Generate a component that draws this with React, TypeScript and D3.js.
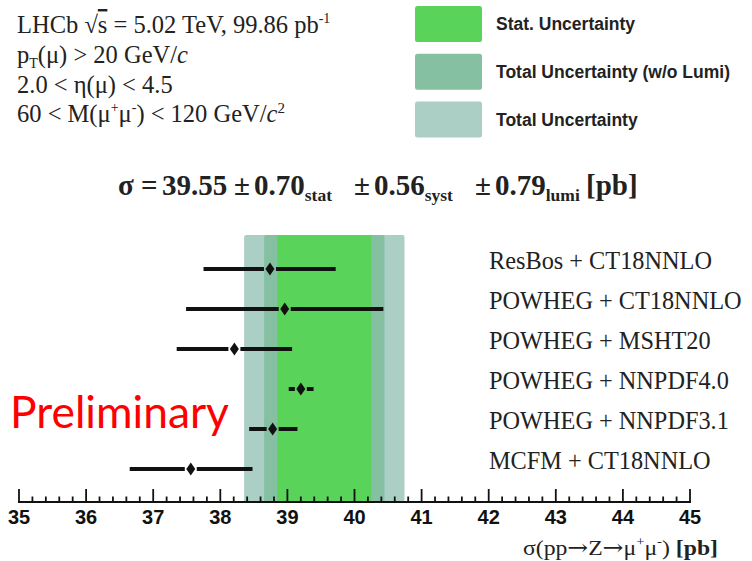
import React from "react";
import * as d3 from "d3";

// Measured cross-section and its uncertainty components [pb]
const sigmaCentral = 39.55;
const sigmaStat = 0.7;
const sigmaSyst = 0.56;
const sigmaLumi = 0.79;

// Theory predictions (top to bottom)
const models = [
  "ResBos + CT18NNLO",
  "POWHEG + CT18NNLO",
  "POWHEG + MSHT20",
  "POWHEG + NNPDF4.0",
  "POWHEG + NNPDF3.1",
  "MCFM + CT18NNLO",
];
const predCentral = [38.74, 38.96, 38.21, 39.2, 38.78, 37.56];
const predLow = [37.75, 37.49, 37.35, 39.02, 38.43, 36.65];
const predHigh = [39.72, 40.43, 39.07, 39.39, 39.15, 38.48];

const axisDomain: [number, number] = [35, 45];
const majorTicks = d3.range(35, 46, 1);

const legendLabels = [
  "Stat. Uncertainty",
  "Total Uncertainty (w/o Lumi)",
  "Total Uncertainty",
];

const COLORS = {
  stat: "#5ad35a",
  noLumi: "#86c0a2",
  total: "#abcec5",
};

const W = 752;
const H = 561;
const SERIF = "'Liberation Serif', 'Times New Roman', serif";
const SANS = "'Liberation Sans', Arial, sans-serif";

export default function App() {
  const x = d3.scaleLinear().domain(axisDomain).range([19, 690]);
  const y = d3.scalePoint<string>().domain(models).range([269, 469]);

  const axisY = 502;
  const bandTop = 235;

  const errNoLumi = Math.sqrt(sigmaStat ** 2 + sigmaSyst ** 2);
  const errTotal = Math.sqrt(sigmaStat ** 2 + sigmaSyst ** 2 + sigmaLumi ** 2);
  const bands = [
    { err: errTotal, color: COLORS.total },
    { err: errNoLumi, color: COLORS.noLumi },
    { err: sigmaStat, color: COLORS.stat },
  ];

  const minorTicks = x.ticks(50);
  const legendColors = [COLORS.stat, COLORS.noLumi, COLORS.total];

  return (
    <svg
      width={W}
      height={H}
      viewBox={`0 0 ${W} ${H}`}
      style={{ position: "absolute", left: 0, top: 0, background: "#fff" }}
    >
      <rect width={W} height={H} fill="#fff" />

      {/* Measurement info */}
      <g fontFamily={SERIF} fontSize={24.5} fill="#222">
        <text x={17} y={33}>
          LHCb{"\u00a0"}
          <tspan>√</tspan>
          <tspan textDecoration="overline">s</tspan> = 5.02 TeV, 99.86 pb
          <tspan fontSize={14} dy={-10}>-1</tspan>
        </text>
        <text x={17} y={63}>
          p
          <tspan fontSize={14} dy={5}>T</tspan>
          <tspan dy={-5}>(μ) &gt; 20 GeV/</tspan>
          <tspan fontStyle="italic">c</tspan>
        </text>
        <text x={17} y={93}>2.0 &lt; η(μ) &lt; 4.5</text>
        <text x={17} y={122}>
          60 &lt; M(μ
          <tspan fontSize={14} dy={-10}>+</tspan>
          <tspan dy={10}>μ</tspan>
          <tspan fontSize={14} dy={-10}>-</tspan>
          <tspan dy={10}>) &lt; 120 GeV/</tspan>
          <tspan fontStyle="italic">c</tspan>
          <tspan fontSize={15} dy={-9}>2</tspan>
        </text>
      </g>

      {/* Legend */}
      <g>
        {legendLabels.map((lab, i) => (
          <g key={lab}>
            <rect
              x={415}
              y={6 + i * 47.8}
              width={67}
              height={36}
              rx={2.5}
              fill={legendColors[i]}
            />
            <text
              x={496}
              y={30 + i * 47.8}
              fontFamily={SANS}
              fontWeight="bold"
              fontSize={17.5}
              fill="#222"
            >
              {lab}
            </text>
          </g>
        ))}
      </g>

      {/* Result formula */}
      <g fontFamily={SERIF} fontWeight="bold" fill="#222">
        <text y={195} fontSize={29}>
          <tspan x={118}>σ</tspan>
          <tspan x={141}>=</tspan>
          <tspan x={162}>{sigmaCentral.toFixed(2)}</tspan>
          <tspan x={234}>±</tspan>
          <tspan x={254}>{sigmaStat.toFixed(2)}</tspan>
          <tspan fontSize={17.5} dy={6}>stat</tspan>
          <tspan x={354} dy={-6}>±</tspan>
          <tspan x={374}>{sigmaSyst.toFixed(2)}</tspan>
          <tspan fontSize={17.5} dy={6}>syst</tspan>
          <tspan x={475} dy={-6}>±</tspan>
          <tspan x={495}>{sigmaLumi.toFixed(2)}</tspan>
          <tspan fontSize={17.5} dy={6}>lumi</tspan>
          <tspan x={586} dy={-6}>[pb]</tspan>
        </text>
      </g>

      {/* Uncertainty bands */}
      <g>
        {bands.map((b) => {
          const x0 = x(sigmaCentral - b.err);
          const x1 = x(sigmaCentral + b.err);
          return (
            <path
              key={b.color}
              d={`M${x0},${axisY} V${bandTop + 2} Q${x0},${bandTop} ${x0 + 2},${bandTop} H${x1 - 2} Q${x1},${bandTop} ${x1},${bandTop + 2} V${axisY} Z`}
              fill={b.color}
            />
          );
        })}
      </g>

      {/* Preliminary tag */}
      <text
        x={10}
        y={428}
        fontFamily="Lato, 'Open Sans', sans-serif"
        fontSize={44}
        fill="#ff0000"
        textLength={219}
        lengthAdjust="spacingAndGlyphs"
      >
        Preliminary
      </text>

      {/* Predictions */}
      <g>
        {models.map((m, i) => {
          const cy = y(m) as number;
          const cx = x(predCentral[i]);
          const gap = 6;
          return (
            <g key={m}>
              <line
                x1={x(predLow[i])}
                x2={cx - gap}
                y1={cy}
                y2={cy}
                stroke="#111"
                strokeWidth={4}
              />
              <line
                x1={cx + gap}
                x2={x(predHigh[i])}
                y1={cy}
                y2={cy}
                stroke="#111"
                strokeWidth={4}
              />
              <path
                d={`M${cx},${cy - 6.5} L${cx + 4.5},${cy} L${cx},${cy + 6.5} L${cx - 4.5},${cy} Z`}
                fill="#111"
              />
              <text
                x={489}
                y={cy}
                fontFamily={SERIF}
                fontSize={24.3}
                fill="#222"
              >
                {m}
              </text>
            </g>
          );
        })}
      </g>

      {/* Axis */}
      <g stroke="#111">
        <line x1={x(35) - 1} x2={x(45) + 1} y1={axisY} y2={axisY} strokeWidth={2.2} />
        {minorTicks.map((t) => {
          const major = Math.abs(t - Math.round(t)) < 1e-6;
          return (
            <line
              key={t}
              x1={x(t)}
              x2={x(t)}
              y1={axisY}
              y2={axisY - (major ? 13 : 5.5)}
              strokeWidth={1.8}
            />
          );
        })}
      </g>
      <g
        fontFamily="'Liberation Sans Narrow', 'Liberation Sans', Arial, sans-serif"
        fontWeight="bold"
        fontSize={20}
        fill="#111"
        textAnchor="middle"
      >
        {majorTicks.map((t) => (
          <text key={t} x={x(t)} y={524}>
            {t}
          </text>
        ))}
      </g>

      {/* Axis title */}
      <text
        x={523}
        y={555}
        fontFamily={SERIF}
        fontSize={21}
        fill="#222"
        textLength={195}
        lengthAdjust="spacingAndGlyphs"
      >
        σ(pp
        <tspan fontFamily="'DejaVu Serif', serif" fontSize={22}>→</tspan>
        Z
        <tspan fontFamily="'DejaVu Serif', serif" fontSize={22}>→</tspan>
        μ
        <tspan fontSize={13} dy={-9}>+</tspan>
        <tspan dy={9}>μ</tspan>
        <tspan fontSize={13} dy={-9}>-</tspan>
        <tspan dy={9}>) </tspan>
        <tspan fontWeight="bold">[pb]</tspan>
      </text>
    </svg>
  );
}
